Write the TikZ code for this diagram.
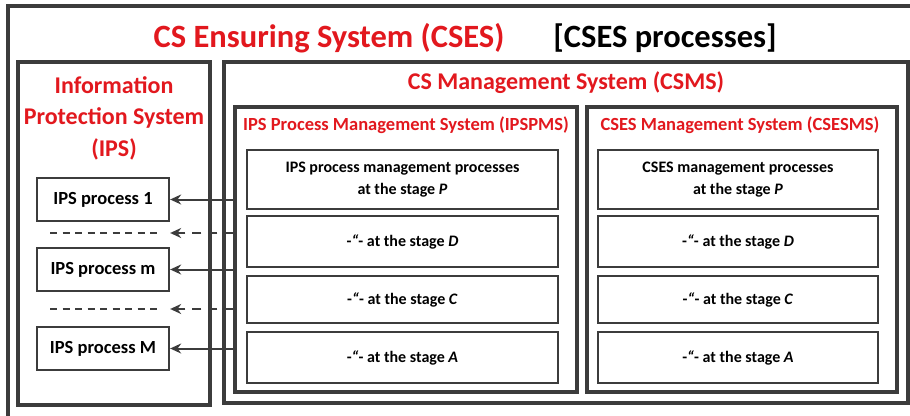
\documentclass[tikz,border=0pt]{standalone}
\usepackage{fontspec}
\setmainfont{Carlito}
\usetikzlibrary{arrows.meta}
\definecolor{ln}{RGB}{60,60,60}
\definecolor{rd}{RGB}{226,24,30}
\tikzset{
  frame/.style={draw=ln, line width=3.2pt, inner sep=0pt},
  inbox/.style={draw=ln, line width=2.3pt, fill=white, inner sep=0pt, align=center,
                font=\fontsize{16}{22}\selectfont\bfseries},
  procbox/.style={draw=ln, line width=2.3pt, fill=white, inner sep=0pt,
                font=\fontsize{18.5}{22}\selectfont\bfseries},
  redtitle/.style={text=rd, font=\bfseries, align=center, inner sep=0pt},
  conn/.style={draw=ln, line width=2pt, -{Stealth[length=11pt,width=10pt]}},
  dconn/.style={conn, dash pattern=on 9pt off 7pt},
}
\begin{document}
\begin{tikzpicture}[x=1pt,y=-1pt]
\useasboundingbox (0,0) rectangle (910,415);
\fill[white] (0,0) rectangle (910,415);
% outer frame (cropped at right and bottom)
\node[frame, minimum width=910pt, minimum height=416pt] (outer) at (463,214) {};
\node[text=rd, font=\fontsize{32.5}{36}\selectfont\bfseries, inner sep=0pt] (title) at (329,38) {CS Ensuring System (CSES)};
\node[font=\fontsize{32.5}{36}\selectfont\bfseries, inner sep=0pt] (sub) at (665,38) {[CSES processes]};
% IPS
\node[frame, minimum width=192pt, minimum height=343pt] (ips) at (114,233.5) {};
\node[redtitle, font=\fontsize{24}{31.5}\selectfont\bfseries] (ipst) at (114,118) {Information\\Protection System\\(IPS)};
% CSMS
\node[frame, minimum width=684pt, minimum height=341pt] (csms) at (566,232.5) {};
\node[redtitle, font=\fontsize{24}{28}\selectfont\bfseries] (csmst) at (566,83) {CS Management System (CSMS)};
% IPSPMS
\node[frame, minimum width=342pt, minimum height=285pt] (ipspms) at (406,249.5) {};
\node[redtitle, font=\fontsize{18.5}{22}\selectfont\bfseries] (ipspmst) at (406,125) {IPS Process Management System (IPSPMS)};
% CSESMS
\node[frame, minimum width=310pt, minimum height=285pt] (csesms) at (742,249.5) {};
\node[redtitle, font=\fontsize{18.5}{22}\selectfont\bfseries] (csesmst) at (740,125) {CSES Management System (CSESMS)};
% IPSPMS inner boxes
\node[inbox, minimum width=311pt, minimum height=59pt] (ip) at (402.5,179.5) {IPS process management processes\\at the stage \textit{P}};
\node[inbox, minimum width=311pt, minimum height=51pt] (id) at (402.5,241.5) {-\textit{“}- at the stage \textit{D}};
\node[inbox, minimum width=311pt, minimum height=47pt] (ic) at (402.5,299.5) {-\textit{“}- at the stage \textit{C}};
\node[inbox, minimum width=311pt, minimum height=51pt] (ia) at (402.5,357.5) {-\textit{“}- at the stage \textit{A}};
% CSESMS inner boxes
\node[inbox, minimum width=280pt, minimum height=59pt] (cp) at (738,179.5) {CSES management processes\\at the stage \textit{P}};
\node[inbox, minimum width=280pt, minimum height=51pt] (cd) at (738,241.5) {-\textit{“}- at the stage \textit{D}};
\node[inbox, minimum width=280pt, minimum height=47pt] (cc) at (738,299.5) {-\textit{“}- at the stage \textit{C}};
\node[inbox, minimum width=280pt, minimum height=51pt] (ca) at (738,357.5) {-\textit{“}- at the stage \textit{A}};
% IPS process boxes
\node[procbox, minimum width=132pt, minimum height=43pt] (p1) at (103,199.5) {IPS process 1};
\node[procbox, minimum width=132pt, minimum height=43pt] (pm) at (103,269.5) {IPS process m};
\node[procbox, minimum width=132pt, minimum height=43pt] (pM) at (103,348.5) {IPS process M};
% dashed separators
\coordinate (s1a) at (50,233); \coordinate (s1b) at (160,233);
\coordinate (s2a) at (50,309); \coordinate (s2b) at (160,309);
\draw[ln, line width=2pt, dash pattern=on 7pt off 5.5pt] (s1a) -- (s1b);
\draw[ln, line width=2pt, dash pattern=on 7pt off 5.5pt] (s2a) -- (s2b);
\coordinate (d1) at (p1.east |- s1a);
\coordinate (d2) at (p1.east |- s2a);
% connectors
\draw[conn] (ipspms.west |- p1.east) -- (p1.east);
\draw[conn] (ipspms.west |- pm.east) -- (pm.east);
\draw[conn] (ipspms.west |- pM.east) -- (pM.east);
\draw[dconn] (ipspms.west |- d1) -- (d1);
\draw[dconn] (ipspms.west |- d2) -- (d2);
\end{tikzpicture}
\end{document}
